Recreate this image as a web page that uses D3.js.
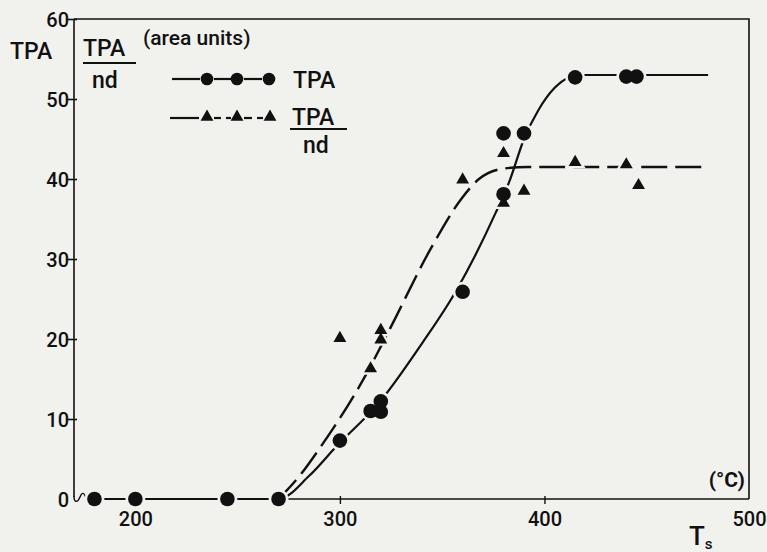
<!DOCTYPE html>
<html>
<head>
<meta charset="utf-8">
<script src="https://cdn.jsdelivr.net/npm/d3@7"></script>
<style>
  html, body { margin: 0; padding: 0; background: #f1f1ee; }
  svg { display: block; }
  text { font-family: Roboto, "DejaVu Sans", sans-serif; fill: #111; font-weight: 500; }
</style>
</head>
<body>
<svg id="chart" width="767" height="552"></svg>
<script>
// ---- data ----
const xTicks = [200, 300, 400, 500];
const yTicks = [0, 10, 20, 30, 40, 50, 60];

// TPA measured points (circles)
const tpaT = [180, 200, 245, 270, 300, 315, 320, 320, 360, 380, 380, 390, 415, 440, 445];
const tpaV = [0, 0, 0, 0, 7.3, 11.0, 10.9, 12.2, 25.9, 45.7, 38.1, 45.7, 52.7, 52.8, 52.8];

// TPA/nd measured points (triangles)
const ndT = [300, 315, 320, 320, 360, 380, 380, 390, 415, 440, 446];
const ndV = [20.1, 16.3, 21.1, 19.9, 39.9, 43.2, 37.0, 38.5, 42.1, 41.8, 39.2];

// fitted curves
const tpaCurveT = [177, 270, 285, 298, 320, 340, 357, 376, 383, 390, 397, 405, 412, 418, 480];
const tpaCurveV = [0, 0, 2.9, 6.5, 12.3, 19.4, 26.1, 35.7, 39.8, 45.0, 48.6, 51.4, 52.7, 53.0, 53.0];
const ndCurveT = [270, 280, 290, 312, 324.5, 344, 359.6, 368, 380, 392, 480];
const ndCurveV = [0, 2.8, 6.3, 15.2, 21.3, 31.1, 37.6, 40.0, 41.3, 41.5, 41.5];

// ---- layout ----
const BG = "#f1f1ee", INK = "#111";
const svg = d3.select("#chart");
svg.append("rect").attr("width", 767).attr("height", 552).attr("fill", BG);

const x = d3.scaleLinear().domain([170, 500]).range([74, 749]);
const y = d3.scaleLinear().domain([0, 60]).range([499, 19]);

// frame (top and right)
svg.append("path")
  .attr("d", `M${x(170)},${y(60)}H${x(500)}V${y(0)}`)
  .attr("fill", "none").attr("stroke", INK).attr("stroke-width", 1.6);

// y axis
const yAxis = d3.axisLeft(y).tickValues(yTicks).tickSize(0).tickPadding(6);
const gy = svg.append("g").attr("transform", `translate(${x(170)},0)`).call(yAxis);
gy.select(".domain").remove();
gy.selectAll("text").attr("font-size", 20).attr("x", -5).attr("dy", "0.36em")
  .style("font-family", "Roboto").style("font-weight", 500);
gy.append("line").attr("x1", 0).attr("x2", 0).attr("y1", y(60)).attr("y2", y(0) - 2)
  .attr("stroke", INK).attr("stroke-width", 1.6);
gy.selectAll(".tick").filter(d => d > 0).append("line")
  .attr("x1", -6).attr("x2", 3).attr("stroke", INK).attr("stroke-width", 1.6);

// x axis
const xAxis = d3.axisBottom(x).tickValues(xTicks).tickSize(0).tickPadding(13);
const gx = svg.append("g").attr("transform", `translate(0,${y(0)})`).call(xAxis);
gx.select(".domain").remove();
gx.selectAll("text").attr("font-size", 20).style("font-family", "Roboto").style("font-weight", 500);
gx.append("line").attr("x1", 88).attr("x2", x(500)).attr("y1", 0).attr("y2", 0)
  .attr("stroke", INK).attr("stroke-width", 1.6);
gx.selectAll(".tick").filter(d => d < 500).append("line")
  .attr("y1", -3).attr("y2", 5).attr("stroke", INK).attr("stroke-width", 1.4);

// axis break squiggle at origin
svg.append("path")
  .attr("d", `M${x(170)},${y(0) - 3} C ${x(170)},${y(0) + 5} 78,${y(0) + 3} 80,${y(0) - 2} S 84,${y(0) - 7} 86,${y(0) - 1} L 88,${y(0)}`)
  .attr("fill", "none").attr("stroke", INK).attr("stroke-width", 1.4);

// curves
const line = d3.line().x(d => x(d[0])).y(d => y(d[1])).curve(d3.curveMonotoneX);
svg.append("path").datum(d3.zip(tpaCurveT, tpaCurveV)).attr("d", line)
  .attr("fill", "none").attr("stroke", INK).attr("stroke-width", 2.2);
svg.append("path").datum(d3.zip(ndCurveT, ndCurveV)).attr("d", line)
  .attr("fill", "none").attr("stroke", INK).attr("stroke-width", 2.4)
  .attr("stroke-dasharray", "26,8");

// markers: halos then fills
const tpaPts = d3.zip(tpaT, tpaV);
const ndPts = d3.zip(ndT, ndV);
const tri = d3.symbol().type(d3.symbolTriangle).size(72);
const triHalo = d3.symbol().type(d3.symbolTriangle).size(190);

svg.append("g").selectAll("circle").data(tpaPts).join("circle")
  .attr("cx", d => x(d[0])).attr("cy", d => y(d[1])).attr("r", 10).attr("fill", BG);
svg.append("g").selectAll("path").data(ndPts).join("path")
  .attr("transform", d => `translate(${x(d[0])},${y(d[1])})`).attr("d", triHalo).attr("fill", BG);
svg.append("g").selectAll("circle").data(tpaPts).join("circle")
  .attr("cx", d => x(d[0])).attr("cy", d => y(d[1])).attr("r", 7.3).attr("fill", INK);
svg.append("g").selectAll("path").data(ndPts).join("path")
  .attr("transform", d => `translate(${x(d[0])},${y(d[1])})`).attr("d", tri).attr("fill", INK);

// ---- labels ----
svg.append("text").attr("x", 10).attr("y", 59).attr("font-size", 23).text("TPA");
svg.append("text").attr("x", 83).attr("y", 56).attr("font-size", 23).text("TPA");
svg.append("line").attr("x1", 83).attr("x2", 136).attr("y1", 63).attr("y2", 63)
  .attr("stroke", INK).attr("stroke-width", 2);
svg.append("text").attr("x", 92).attr("y", 88).attr("font-size", 23).text("nd");
svg.append("text").attr("x", 143).attr("y", 45).attr("font-size", 21).text("(area units)");

// legend: TPA
const lg = svg.append("g");
const ly1 = 79, ly2 = 118;
[[172, 200], [214, 231], [244, 262]].forEach(s =>
  lg.append("line").attr("x1", s[0]).attr("x2", s[1]).attr("y1", ly1).attr("y2", ly1)
    .attr("stroke", INK).attr("stroke-width", 2.2));
[207, 237, 269].forEach(cx =>
  lg.append("circle").attr("cx", cx).attr("cy", ly1).attr("r", 6.3).attr("fill", INK));
lg.append("text").attr("x", 293).attr("y", 88).attr("font-size", 23).text("TPA");

// legend: TPA/nd
[[170, 199], [214, 221], [226, 231], [244, 252], [257, 263]].forEach(s =>
  lg.append("line").attr("x1", s[0]).attr("x2", s[1]).attr("y1", ly2).attr("y2", ly2)
    .attr("stroke", INK).attr("stroke-width", 2.2));
[207, 237, 270].forEach(cx =>
  lg.append("path").attr("transform", `translate(${cx},${ly2 - 1})`).attr("d", tri).attr("fill", INK));
lg.append("text").attr("x", 292).attr("y", 125).attr("font-size", 23).text("TPA");
lg.append("line").attr("x1", 290).attr("x2", 347).attr("y1", 129).attr("y2", 129)
  .attr("stroke", INK).attr("stroke-width", 2);
lg.append("text").attr("x", 303).attr("y", 153).attr("font-size", 23).text("nd");

// units and axis title
svg.append("text").attr("x", 745).attr("y", 487).attr("text-anchor", "end")
  .attr("font-size", 21).style("font-weight", 700).text("(°C)");
const ts = svg.append("text").attr("x", 689).attr("y", 545).attr("font-size", 26);
ts.append("tspan").text("T");
ts.append("tspan").attr("font-size", 15).attr("dy", 4).text("s");
</script>
</body>
</html>
